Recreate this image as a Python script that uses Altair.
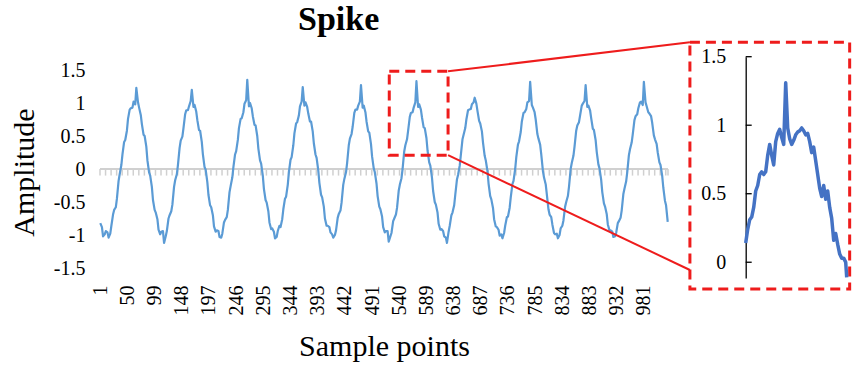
import altair as alt
import pandas as pd

FONT = "Liberation Serif"
RED = "#EE1C1C"

# ---- main series: amplitude read at samples 1, 6, 11, ... 1021 and 1024 ----
sample_a = list(range(1, 1022, 5)) + [1024]
amplitude_a = [
    -0.82, -1.02, -0.94, -1.04, -0.86, -0.62, -0.45, -0.08, 0.22, 0.44, 0.76, 0.92, 1.02, 1.23, 0.93, 0.68, 0.50, 0.13, -0.10, -0.47,
    -0.66, -0.92, -0.95, -1.12, -0.94, -0.70, -0.54, -0.17, 0.06, 0.43, 0.62, 0.89, 0.95, 1.20, 0.97, 0.74, 0.58, 0.22, -0.01, -0.39,
    -0.58, -0.87, -0.93, -1.03, -0.98, -0.77, -0.62, -0.26, 0.03, 0.27, 0.62, 0.77, 0.99, 1.35, 1.00, 0.80, 0.66, 0.31, 0.08, -0.30,
    -0.51, -0.81, -0.90, -1.05, -0.94, -0.88, -0.61, -0.42, -0.05, 0.18, 0.54, 0.71, 0.95, 1.24, 1.01, 0.84, 0.72, 0.39, 0.17, -0.21,
    -0.43, -0.75, -0.86, -0.96, -1.04, -0.93, -0.68, -0.51, -0.15, 0.09, 0.46, 0.64, 0.90, 0.96, 1.27, 0.96, 0.72, 0.55, 0.19, -0.05,
    -0.41, -0.61, -0.88, -0.94, -1.10, -0.97, -0.75, -0.59, -0.24, 0.00, 0.36, 0.58, 0.85, 0.93, 1.33, 0.98, 0.78, 0.62, 0.28, 0.05,
    -0.33, -0.54, -0.83, -0.91, -1.02, -1.12, -0.86, -0.66, -0.39, -0.09, 0.21, 0.52, 0.75, 0.90, 0.98, 1.08, 0.88, 0.69, 0.40, 0.13,
    -0.22, -0.46, -0.76, -0.88, -1.01, -1.05, -0.86, -0.72, -0.43, -0.18, 0.18, 0.42, 0.72, 0.86, 1.01, 1.32, 0.93, 0.75, 0.46, 0.22,
    -0.13, -0.38, -0.69, -0.84, -0.99, -1.05, -0.90, -0.78, -0.50, -0.27, 0.09, 0.34, 0.66, 0.81, 0.99, 1.27, 0.96, 0.77, 0.59, 0.26,
    0.01, -0.35, -0.57, -0.84, -0.93, -1.03, -0.97, -0.79, -0.63, -0.30, -0.05, 0.30, 0.53, 0.80, 0.92, 1.02, 1.32, 0.95, 0.84, 0.70,
    0.45, 0.25, 0.06, -0.28, -0.55, -0.80,
]
# ---- amplitude read at samples 4, 9, 14, ... 1019 (the noisy in-between points) ----
sample_b = list(range(4, 1020, 5))
amplitude_b = [
    -0.88, -0.99, -0.96, -0.98, -0.69, -0.58, -0.18, 0.06, 0.41, 0.58, 0.90, 0.93, 0.98, 1.01, 0.82, 0.52, 0.34, -0.05, -0.27, -0.62,
    -0.76, -0.99, -0.94, -1.02, -0.75, -0.64, -0.27, -0.08, 0.32, 0.49, 0.83, 0.89, 1.03, 0.94, 0.87, 0.59, 0.41, 0.03, -0.20, -0.55,
    -0.70, -0.95, -0.94, -1.04, -0.81, -0.73, -0.35, -0.13, 0.22, 0.44, 0.76, 0.86, 1.04, 0.95, 0.92, 0.67, 0.50, 0.13, -0.10, -0.47,
    -0.64, -0.91, -0.95, -1.03, -0.86, -0.76, -0.45, -0.24, 0.14, 0.36, 0.69, 0.81, 1.02, 0.96, 0.94, 0.72, 0.57, 0.22, -0.02, -0.39,
    -0.57, -0.86, -0.88, -0.99, -1.00, -0.74, -0.63, -0.24, -0.05, 0.36, 0.53, 0.85, 0.90, 1.02, 0.93, 0.86, 0.57, 0.38, 0.01, -0.22,
    -0.57, -0.72, -0.96, -0.94, -1.02, -0.79, -0.69, -0.33, -0.14, 0.27, 0.45, 0.79, 0.86, 1.01, 0.94, 0.90, 0.63, 0.47, 0.10, -0.13,
    -0.50, -0.66, -0.92, -0.94, -1.04, -0.95, -0.70, -0.55, -0.16, 0.05, 0.45, 0.62, 0.89, 0.91, 1.01, 0.99, 0.73, 0.57, 0.20, -0.03,
    -0.41, -0.59, -0.87, -0.92, -0.99, -0.97, -0.73, -0.59, -0.23, 0.00, 0.37, 0.56, 0.85, 0.91, 1.03, 0.97, 0.86, 0.53, 0.37, -0.03,
    -0.23, -0.61, -0.73, -0.97, -0.98, -1.00, -0.86, -0.57, -0.41, 0.00, 0.20, 0.58, 0.71, 0.96, 1.03, 0.94, 0.89, 0.61, 0.44, 0.07,
    -0.16, -0.52, -0.68, -0.93, -0.95, -1.02, -0.82, -0.74, -0.38, -0.19, 0.21, 0.40, 0.74, 0.83, 1.01, 0.97, 1.01, 0.86, 0.80, 0.51,
    0.38, 0.10, -0.10, -0.48,
]
x_tick_labels = [1, 50, 99, 148, 197, 246, 295, 344, 393, 442, 491, 540, 589,
                 638, 687, 736, 785, 834, 883, 932, 981]
y_tick_labels = [-1.5, -1, -0.5, 0, 0.5, 1, 1.5]
zero_tick_n = [0.5 + 10 * k for k in range(103)] + [1024.5]

# ---- inset (zoomed spike) ----
inset_k = list(range(51)) + [50.5]
inset_v = [
    0.14, 0.24, 0.31, 0.33, 0.40, 0.52, 0.56, 0.64, 0.66, 0.64, 0.66, 0.78, 0.86, 0.78, 0.71, 0.88, 0.94,
    0.97, 0.91, 0.86, 1.31, 0.98, 0.90, 0.86, 0.89, 0.93, 0.95, 0.96, 0.98, 0.96, 0.93, 0.94, 0.88, 0.80,
    0.84, 0.74, 0.64, 0.54, 0.48, 0.56, 0.46, 0.52, 0.40, 0.32, 0.16, 0.21, 0.13, 0.06, 0.03, 0.03, 0.00, -0.11,
]
inset_tick_labels = [0, 0.5, 1, 1.5]

# ---- annotation geometry (in main data units) ----
box_n = [522, 628]
box_v = [0.21, 1.48]
frame_n = [1064, 1352]
frame_v = [-1.82, 1.92]
conn_from_n = [628, 628]
conn_from_v = [1.48, 0.21]
conn_to_n = [1064, 1064]
conn_to_v = [1.92, -1.53]

sx = alt.Scale(domain=[0.5, 1024.5], range=[0, 568], nice=False, zero=False)
sy = alt.Scale(domain=[-1.5, 1.5], range=[198, 0], nice=False, zero=False)
isx = alt.Scale(domain=[0, 50.5], range=[645.7, 746.7], nice=False, zero=False)
isy = alt.Scale(domain=[-0.115, 1.5], range=[208, -13.3], nice=False, zero=False)

main_df = pd.concat([
    pd.DataFrame({"n": sample_a, "v": amplitude_a}),
    pd.DataFrame({"n": sample_b, "v": amplitude_b}),
]).sort_values("n").reset_index(drop=True)
zero_df = pd.DataFrame({"n": [0.5], "n2": [1024.5], "v": [0.0]})
tick_df = pd.DataFrame({"n": zero_tick_n, "v": 0.0, "v2": -0.1})
box_df = pd.DataFrame({"n": [box_n[0]], "n2": [box_n[1]], "v": [box_v[0]], "v2": [box_v[1]]})
frame_df = pd.DataFrame({"n": [frame_n[0]], "n2": [frame_n[1]], "v": [frame_v[0]], "v2": [frame_v[1]]})
conn_df = pd.DataFrame({"n": conn_from_n, "v": conn_from_v, "n2": conn_to_n, "v2": conn_to_v})
inset_df = pd.DataFrame({"k": inset_k, "w": inset_v})
inset_tick_df = pd.DataFrame({"k": 0.0, "k2": 3.0, "w": inset_tick_labels})

x_axis = alt.Axis(
    values=x_tick_labels, labelAngle=-90, labelAlign="right", labelBaseline="middle",
    labelFont=FONT, labelFontSize=20, labelColor="black", labelPadding=17,
    labelOverlap=False, ticks=False, domain=False, grid=False,
    title="Sample points", titleFont=FONT, titleFontSize=30, titleFontWeight="normal",
    titleColor="black", titleX=284, titleY=87, titleBaseline="alphabetic", titleAlign="center",
)
y_axis = alt.Axis(
    values=y_tick_labels, labelExpr="'' + datum.value",
    labelFont=FONT, labelFontSize=20, labelColor="black", labelPadding=15,
    ticks=False, domain=False, grid=False,
    title="Amplitude", titleFont=FONT, titleFontSize=30, titleFontWeight="normal",
    titleColor="black", titleX=-67, titleY=102, titleAngle=-90,
    titleBaseline="alphabetic", titleAlign="center",
)
inset_axis = alt.Axis(
    orient="left", offset=-645.7, values=inset_tick_labels,
    labelExpr="'' + datum.value", labelFont=FONT, labelFontSize=20,
    labelColor="black", labelPadding=20, ticks=False, domain=True,
    domainColor="black", domainWidth=1.3, grid=False, title="",
)

zero_line = alt.Chart(zero_df).mark_rule(color="#D0D0D0", strokeWidth=2).encode(
    x=alt.X("n:Q", scale=sx, axis=None), x2="n2:Q",
    y=alt.Y("v:Q", scale=sy, axis=None),
)
zero_ticks = alt.Chart(tick_df).mark_rule(color="#D0D0D0", strokeWidth=1.5).encode(
    x=alt.X("n:Q", scale=sx, axis=None),
    y=alt.Y("v:Q", scale=sy, axis=None), y2="v2:Q",
)
signal = alt.Chart(main_df).mark_line(color="#5B9BD5", strokeWidth=2.2, strokeJoin="round").encode(
    x=alt.X("n:Q", scale=sx, axis=x_axis),
    y=alt.Y("v:Q", scale=sy, axis=y_axis),
)
box = alt.Chart(box_df).mark_rect(fillOpacity=0, stroke=RED, strokeWidth=3,
                                  strokeDash=[10, 6], clip=False).encode(
    x=alt.X("n:Q", scale=sx, axis=None), x2="n2:Q",
    y=alt.Y("v:Q", scale=sy, axis=None), y2="v2:Q",
)
connectors = alt.Chart(conn_df).mark_rule(color=RED, strokeWidth=2, clip=False).encode(
    x=alt.X("n:Q", scale=sx, axis=None), x2="n2:Q",
    y=alt.Y("v:Q", scale=sy, axis=None), y2="v2:Q",
)
frame = alt.Chart(frame_df).mark_rect(fillOpacity=0, stroke=RED, strokeWidth=3,
                                      strokeDash=[10, 6], clip=False).encode(
    x=alt.X("n:Q", scale=sx, axis=None), x2="n2:Q",
    y=alt.Y("v:Q", scale=sy, axis=None), y2="v2:Q",
)
inset_ticks = alt.Chart(inset_tick_df).mark_rule(color="black", strokeWidth=1.3, clip=False).encode(
    x=alt.X("k:Q", scale=isx, axis=None), x2="k2:Q",
    y=alt.Y("w:Q", scale=isy, axis=None),
)
inset_line = alt.Chart(inset_df).mark_line(color="#4472C4", strokeWidth=3.5,
                                           strokeJoin="round", clip=False).encode(
    x=alt.X("k:Q", scale=isx, axis=None),
    y=alt.Y("w:Q", scale=isy, axis=inset_axis),
)

chart = alt.layer(
    zero_line, zero_ticks, signal, box, connectors, frame, inset_ticks, inset_line
).resolve_scale(x="independent", y="independent").properties(
    width=757, height=198,
    title=alt.TitleParams(text="Spike", anchor="start", frame="group", dx=198,
                          font=FONT, fontSize=34, fontWeight="bold", color="black"),
    autosize=alt.AutoSizeParams(type="none"),
    padding={"left": 100, "top": 70, "right": 0, "bottom": 98},
).configure(
    font=FONT
).configure_axis(
    labelFont=FONT, titleFont=FONT
).configure_view(strokeWidth=0)

chart.save("out.html", embed_options={"renderer": "svg", "actions": False})
